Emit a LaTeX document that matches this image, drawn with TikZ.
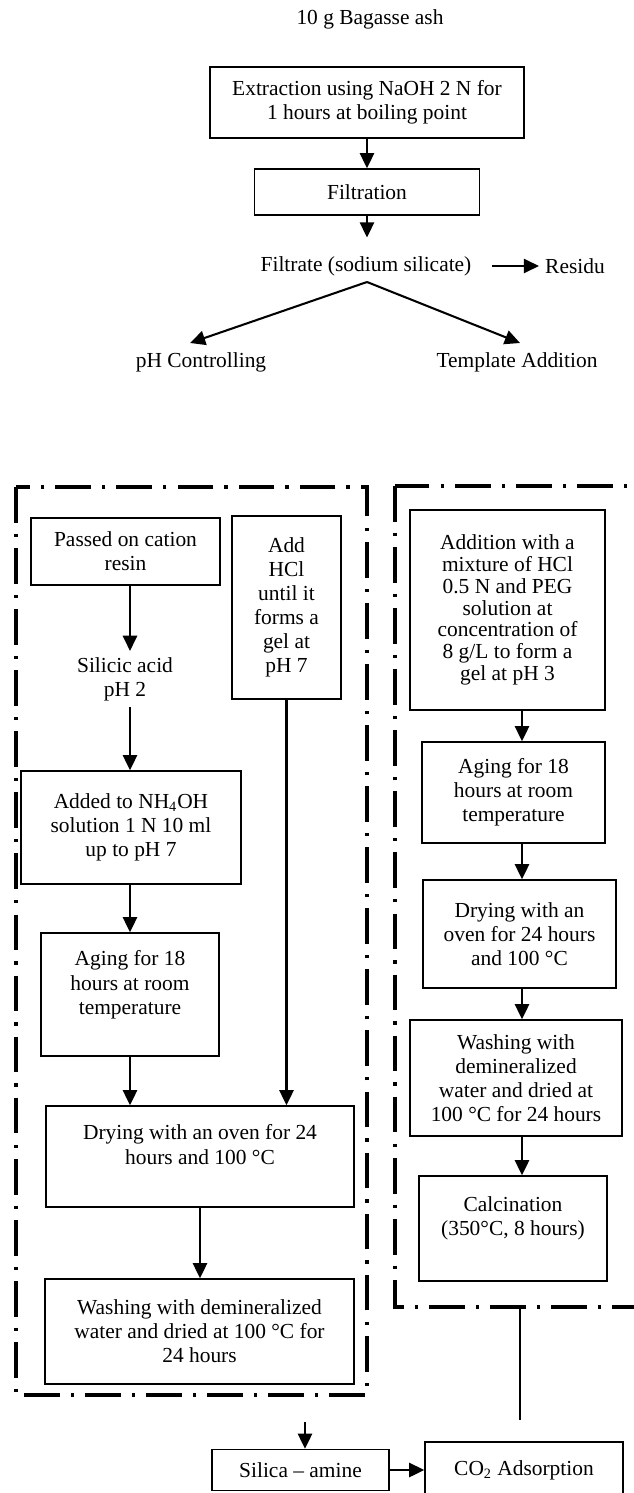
\documentclass[tikz,border=0pt]{standalone}
\usepackage{fontspec}
\setmainfont{Liberation Serif}
\usetikzlibrary{arrows.meta}
\newlength{\px}
\setlength{\px}{0.56pt}

\begin{document}
\begin{tikzpicture}[x=0.56pt, y=-0.56pt,
  every node/.style={font=\fontsize{12}{13.5}\selectfont, align=center},
  box/.style 2 args={draw, line width=0.85pt, inner sep=0pt, minimum width=#1*\px, minimum height=#2*\px},
  conn/.style={line width=1.15pt},
  arr/.style={conn, -{Triangle[length=8.5pt, width=8pt]}},
  frame/.style={line width=1.9pt, dash pattern=on 20pt off 6.2pt on 1.8pt off 6.2pt}]
\useasboundingbox (0,0) rectangle (634,1493);
\clip (0,0) rectangle (634,1493);

\node (ash) at (370,19) {10 g Bagasse ash};
\node[box={314}{71}] (ext) at (367,102.5) {Extraction using NaOH 2 N for\\1 hours at boiling point};
\node[box={225}{46}] (filt) at (367,192) {Filtration};
\node (filtrate) at (366,266) {Filtrate (sodium silicate)};
\node (res) at (575,266) {Residu};
\coordinate (fork) at (367,282);
\node (ph) at (201,362) {pH Controlling};
\node (tmpl) at (517,362) {Template Addition};
\coordinate (phtip) at (190,343);
\coordinate (tmpltip) at (520,343);

\draw[arr] (ext) -- (filt);
\draw[arr, shorten >=7pt] (filt) -- (filt |- filtrate.north);
\draw[arr, shorten <=8pt] (filtrate) -- (res);
\draw[arr] (fork) -- (phtip);
\draw[arr] (fork) -- (tmpltip);

% frames
\draw[frame] (16,487) rectangle (367,1395);
\draw[frame] (395,486) rectangle (660,1307);

% pH controlling
\coordinate (lcol) at (130,0);
\node[box={189}{67}] (pass) at (125.5,551.5) {Passed on cation\\resin};
\node (silicic) at (125,679) {Silicic acid\\pH 2};
\node[box={109}{183}] (hcl) at (286.5,607.5) {Add\\HCl\\until it\\forms a\\gel at\\pH 7};
\node[box={220}{113}] (nh4) at (131,827.5) {Added to NH\textsubscript{4}OH\\solution 1 N 10 ml\\up to pH 7};
\node[box={178}{123}] (age1) at (130,994.5) {Aging for 18\\hours at room\\temperature\\ \mbox{}};
\node[box={308}{101}] (dry1) at (200,1156.5) {Drying with an oven for 24\\hours and 100 °C\\ \mbox{}};
\node[box={309}{105}] (wash1) at (199.5,1331.5) {Washing with demineralized\\water and dried at 100 °C for\\24 hours};

\draw[arr] (pass.south -| lcol) -- (silicic.north -| lcol);
\draw[arr] (silicic.south -| lcol) -- (nh4.north -| lcol);
\draw[arr] (nh4.south -| lcol) -- (age1.north -| lcol);
\draw[arr] (age1.south -| lcol) -- (dry1.north -| lcol);
\draw[arr] (hcl) -- (hcl |- dry1.north);
\draw[arr] (dry1) -- (dry1 |- wash1.north);

% template addition
\coordinate (rcol) at (522,0);
\node[box={195}{200}, font=\fontsize{12}{12.2}\selectfont] (add) at (507.5,610) {Addition with a\\mixture of HCl\\0.5 N and PEG\\solution at\\concentration of\\8 g/L to form a\\gel at pH 3};
\node[box={183}{101}] (age2) at (513.5,792.5) {Aging for 18\\hours at room\\temperature};
\node[box={193}{108}] (dry2) at (519.5,934) {Drying with an\\oven for 24 hours\\and 100 °C};
\node[box={212}{116}] (wash2) at (516,1078) {Washing with\\demineralized\\water and dried at\\100 °C for 24 hours};
\node[box={188}{105}] (calc) at (513,1228.5) {Calcination\\(350°C, 8 hours)\\ \mbox{}};

\draw[arr] (add.south -| rcol) -- (age2.north -| rcol);
\draw[arr] (age2.south -| rcol) -- (dry2.north -| rcol);
\draw[arr] (dry2.south -| rcol) -- (wash2.north -| rcol);
\draw[arr] (wash2.south -| rcol) -- (calc.north -| rcol);

% end
\coordinate (rf) at (520,1307);
\coordinate (rfend) at (520,1420);
\coordinate (lf) at (305,1422);
\node[box={177}{41}] (sil) at (300.5,1470) {Silica -- amine};
\node[box={198}{56}] (co2) at (524,1470) {CO\textsubscript{2} Adsorption};
\draw[conn] (rf) -- (rfend);
\draw[arr] (lf) -- (lf |- sil.north);
\draw[arr] (sil) -- (co2);

\end{tikzpicture}
\end{document}
